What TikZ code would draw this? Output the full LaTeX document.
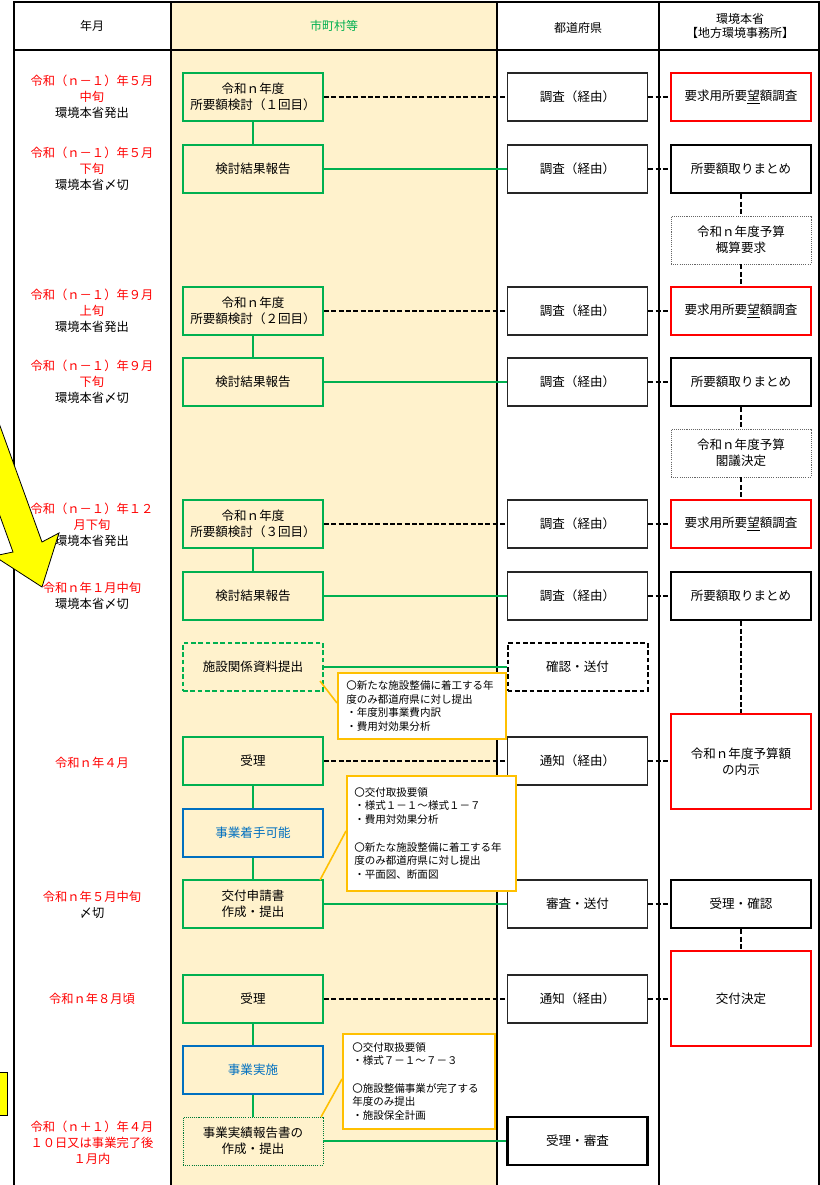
\documentclass[tikz,border=0pt]{standalone}
\usepackage{fontspec}
\setmainfont{Noto Sans CJK JP}
\usetikzlibrary{calc}
\definecolor{beige}{HTML}{FFF2CC}
\definecolor{grn}{HTML}{00B050}
\definecolor{blu}{HTML}{0070C0}
\definecolor{org}{HTML}{FFC000}
\definecolor{yel}{HTML}{FFFF00}
\definecolor{redc}{HTML}{FF0000}
\begin{document}
\begin{tikzpicture}[x=0.75pt,y=-0.75pt,
  box/.style={rectangle, minimum width=105pt, minimum height=36pt, inner sep=0pt, align=center, font=\fontsize{9.4}{12}\selectfont},
  mbox/.style={box, draw=grn, line width=1.5pt},
  mdash/.style={box, draw=grn, line width=1.5pt, dash pattern=on 3.5pt off 2pt},
  mdot/.style={box, draw=grn!70!black, line width=0.7pt, dash pattern=on 0.8pt off 0.8pt},
  bbox/.style={box, draw=blu, line width=2pt, text=blu},
  pbox/.style={box, fill=white, draw=black!85, line width=1pt},
  pdash/.style={box, fill=white, draw=black, line width=1.5pt, dash pattern=on 3.5pt off 2pt},
  pthick/.style={box, fill=white, draw=black, line width=1.8pt},
  rred/.style={box, fill=white, draw=redc, line width=1.5pt},
  rblk/.style={box, fill=white, draw=black, line width=2pt},
  rdot/.style={box, fill=white, draw=black!60, line width=0.7pt, dash pattern=on 0.8pt off 0.8pt},
  lbl/.style={align=center, inner sep=0pt, font=\fontsize{9.2}{12}\selectfont},
  hdr/.style={align=center, inner sep=0pt, font=\fontsize{9}{11}\selectfont},
  dsh/.style={draw=black, line width=1.4pt, dash pattern=on 3.75pt off 1.75pt},
  gln/.style={draw=grn, line width=1.5pt},
  callout/.style={rectangle, draw=org, fill=white, line width=1.3pt, inner sep=0pt},
  ctext/.style={align=left, inner sep=0pt, font=\fontsize{7.9}{10.3}\selectfont},
  ptr/.style={draw=org, line width=1.2pt}
]
\useasboundingbox (0,0) rectangle (820,1185);
% background column
\fill[beige] (171,2) rectangle (497,1185);
% table lines
\draw[line width=2pt] (14,2) -- (820,2);
\draw[line width=1.6pt] (14,50) -- (820,50);
\draw[line width=2.2pt] (14,1) -- (14,1185);
\draw[line width=0.8pt] (171,2) -- (171,1185);
\draw[line width=1.5pt] (497,2) -- (497,1185);
\draw[line width=0.8pt] (659,2) -- (659,1185);
\draw[line width=1.6pt] (819,2) -- (819,1185);
% headers
\node[hdr] (h1) at (92,26) {年月};
\node[hdr, text=grn] (h2) at (334,26) {市町村等};
\node[hdr] (h3) at (578,28) {都道府県};
\node[hdr] (h4) at (740,26) {環境本省\\【地方環境事務所】};

% municipal boxes
\node[mbox] (m1) at (253,97) {令和ｎ年度\\所要額検討（１回目）};
\node[mbox] (m2) at (253,169) {検討結果報告};
\node[mbox] (m3) at (253,311) {令和ｎ年度\\所要額検討（２回目）};
\node[mbox] (m4) at (253,382) {検討結果報告};
\node[mbox] (m5) at (253,524) {令和ｎ年度\\所要額検討（３回目）};
\node[mbox] (m6) at (253,596) {検討結果報告};
\node[mdash] (m7) at (253,667) {施設関係資料提出};
\node[mbox] (m8) at (253,761) {受理};
\node[bbox] (m9) at (253,833) {事業着手可能};
\node[mbox] (m10) at (253,904) {交付申請書\\作成・提出};
\node[mbox] (m11) at (253,999) {受理};
\node[bbox] (m12) at (253,1070) {事業実施};
\node[mdot] (m13) at (253,1141) {事業実績報告書の\\作成・提出};

% prefecture boxes
\node[pbox] (p1) at (577.5,97) {調査（経由）};
\node[pbox] (p2) at (577.5,169) {調査（経由）};
\node[pbox] (p3) at (577.5,311) {調査（経由）};
\node[pbox] (p4) at (577.5,382) {調査（経由）};
\node[pbox] (p5) at (577.5,524) {調査（経由）};
\node[pbox] (p6) at (577.5,596) {調査（経由）};
\node[pdash] (p7) at (577.5,667) {確認・送付};
\node[pbox] (p8) at (577.5,761) {通知（経由）};
\node[pbox] (p9) at (577.5,904) {審査・送付};
\node[pbox] (p10) at (577.5,999) {通知（経由）};
\node[pthick] (p11) at (577.5,1141) {受理・審査};

% ministry boxes
\node[rred] (r1) at (741,97) {要求用所要\underline{望}額調査};
\node[rblk] (r2) at (741,169) {所要額取りまとめ};
\node[rdot] (r3) at (741,240) {令和ｎ年度予算\\概算要求};
\node[rred] (r4) at (741,311) {要求用所要\underline{望}額調査};
\node[rblk] (r5) at (741,382) {所要額取りまとめ};
\node[rdot] (r6) at (741,453) {令和ｎ年度予算\\閣議決定};
\node[rred] (r7) at (741,524) {要求用所要\underline{望}額調査};
\node[rblk] (r8) at (741,596) {所要額取りまとめ};
\node[rred, minimum height=71.25pt] (r9) at (741,761.5) {令和ｎ年度予算額\\の内示};
\node[rblk] (r10) at (741,904) {受理・確認};
\node[rred, minimum height=71.25pt] (r11) at (741,998.5) {交付決定};

% connectors
\draw[dsh] (m1) -- (p1);
\draw[dsh] (p1) -- (r1);
\draw[gln] (m1) -- (m2);
\draw[gln] (m2) -- (p2);
\draw[dsh] (p2) -- (r2);
\draw[dsh] (r2) -- (r3);
\draw[dsh] (r3) -- (r4);
\draw[dsh] (m3) -- (p3);
\draw[dsh] (p3) -- (r4);
\draw[gln] (m3) -- (m4);
\draw[gln] (m4) -- (p4);
\draw[dsh] (p4) -- (r5);
\draw[dsh] (r5) -- (r6);
\draw[dsh] (r6) -- (r7);
\draw[dsh] (m5) -- (p5);
\draw[dsh] (p5) -- (r7);
\draw[gln] (m5) -- (m6);
\draw[gln] (m6) -- (p6);
\draw[dsh] (p6) -- (r8);
\draw[dsh] (r8) -- (r9);
\draw[gln] (m7) -- (p7);
\draw[dsh] (m8) -- (p8);
\draw[dsh] (p8) -- (r9.west |- p8);
\draw[gln] (m8) -- (m9);
\draw[gln] (m9) -- (m10);
\draw[gln] (m10) -- (p9);
\draw[dsh] (p9) -- (r10);
\draw[dsh] (r10) -- (r11);
\draw[dsh] (m11) -- (p10);
\draw[dsh] (p10) -- (r11.west |- p10);
\draw[gln] (m11) -- (m12);
\draw[gln] (m12) -- (m13);
\draw[gln] (m13) -- (p11);

% callouts
\node[callout, minimum width=126pt, minimum height=49.5pt, anchor=north west] (c1) at (337,672) {};
\node[ctext, anchor=west] (c1t) at ($(c1.west)+(9,0)$) {〇新たな施設整備に着工する年\\度のみ都道府県に対し提出\\・年度別事業費内訳\\・費用対効果分析};
\coordinate (k1) at (320,681);
\draw[ptr] (k1) -- ($(c1.north west)+(0,31)$);

\node[callout, minimum width=126.75pt, minimum height=86.25pt, anchor=north west] (c2) at (346,775) {};
\node[ctext, anchor=west] (c2t) at ($(c2.west)+(8,0)$) {〇交付取扱要領\\・様式１－１～様式１－７\\・費用対効果分析\\[10.3pt]〇新たな施設整備に着工する年\\度のみ都道府県に対し提出\\・平面図、断面図};
\coordinate (k2) at (320,880);
\draw[ptr] (k2) -- ($(c2.north west)+(0,56)$);

\node[callout, minimum width=114pt, minimum height=71.25pt, anchor=north west] (c3) at (342,1033) {};
\node[ctext, anchor=west] (c3t) at ($(c3.west)+(10,0)$) {〇交付取扱要領\\・様式７－１～７－３\\[10.3pt]〇施設整備事業が完了する\\年度のみ提出\\・施設保全計画};
\coordinate (k3) at (321,1117);
\draw[ptr] (k3) -- ($(c3.north west)+(0,46)$);

% left labels
\node[lbl] (t1) at (92,97) {\textcolor{redc}{令和（ｎ－１）年５月}\\\textcolor{redc}{中旬}\\環境本省発出};
\node[lbl] (t2) at (92,169) {\textcolor{redc}{令和（ｎ－１）年５月}\\\textcolor{redc}{下旬}\\環境本省〆切};
\node[lbl] (t3) at (92,311) {\textcolor{redc}{令和（ｎ－１）年９月}\\\textcolor{redc}{上旬}\\環境本省発出};
\node[lbl] (t4) at (92,382) {\textcolor{redc}{令和（ｎ－１）年９月}\\\textcolor{redc}{下旬}\\環境本省〆切};
\node[lbl] (t5) at (92,525) {\textcolor{redc}{令和（ｎ－１）年１２}\\\textcolor{redc}{月下旬}\\環境本省発出};
\node[lbl] (t6) at (92,596) {\textcolor{redc}{令和ｎ年１月中旬}\\環境本省〆切};
\node[lbl, text=redc] (t7) at (92,763) {令和ｎ年４月};
\node[lbl] (t8) at (92,905) {\textcolor{redc}{令和ｎ年５月中旬}\\〆切};
\node[lbl, text=redc] (t9) at (92,999) {令和ｎ年８月頃};
\node[lbl, text=redc] (t10) at (92,1143) {令和（ｎ＋１）年４月\\１０日又は事業完了後\\１月内};

% yellow arrow and box (partly outside the picture)
\begin{scope}
\clip (0,0) rectangle (820,1185);
\draw[fill=yel, line width=0.6pt] (-60,260) -- (42,542) -- (59,533) -- (42,587) -- (-6,556) -- (13,552) -- (-89,270) -- cycle;
\draw[fill=yel, line width=0.6pt] (-5,1072) rectangle (7,1115);
\end{scope}
\end{tikzpicture}
\end{document}
